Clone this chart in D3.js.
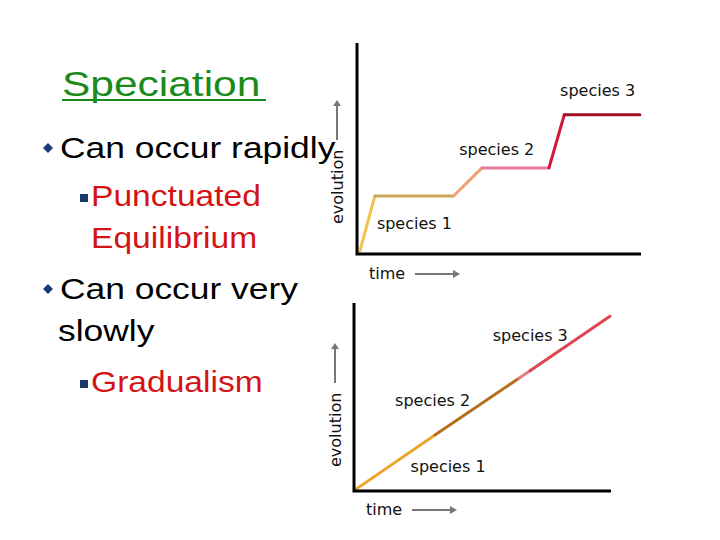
<!DOCTYPE html><html><head><meta charset="utf-8">
<script src="https://cdn.jsdelivr.net/npm/d3@7"></script>
<style>body{margin:0;background:#fff}</style></head><body>
<script>
const punctTime=[1,6.3,34,44,67.6,73,99.6];
const punctEvo=[1.4,27.5,27.5,40.8,40.8,66,66];
const punctColors=["#f2c24a","#c9a554","#f0a276","#e27c9a","#d4183c","#9e1020"];
const gradTime=[0.8,31.5,64.2,68.5,99.6];
const gradEvo=[1,29.8,60,64,93];
const gradColors=["#eca62a","#b4701e","#ea7a86","#e04452"];
const speciesLabels=["species 1","species 2","species 3"];
const topLabelPos=[[7,12],[36,47],[71.5,75]];
const botLabelPos=[[22,10],[16,45],[54,80]];

const svg=d3.select("body").append("svg").attr("width",720).attr("height",540);
const F="Liberation Sans, Arial, sans-serif";
function stext(x,y,s,size,fill,sx){
  svg.append("text").attr("transform",`translate(${x},${y}) scale(${sx},1)`).attr("font-family",F).attr("font-size",size).attr("fill",fill).text(s);
}
stext(62,96,"Speciation",36,"#1a8a1a",1.18);
svg.append("line").attr("x1",62).attr("x2",266).attr("y1",100).attr("y2",100).attr("stroke","#1a8a1a").attr("stroke-width",2);
function diamond(x,y){svg.append("path").attr("d",`M${x},${y-5}L${x+5},${y}L${x},${y+5}L${x-5},${y}Z`).attr("fill","#1a3a7a");}
function sq(x,y){svg.append("rect").attr("x",x-4).attr("y",y-4).attr("width",8).attr("height",8).attr("fill","#1a3a6a");}
const lines=[[60,158,"Can occur rapidly","#000",1.18],[91,206,"Punctuated","#d41414",1.12],[91,248,"Equilibrium","#d41414",1.12],[60,299,"Can occur very","#000",1.18],[58,341,"slowly","#000",1.18],[91,392,"Gradualism","#d41414",1.12]];
lines.forEach(l=>stext(l[0],l[1],l[2],30,l[3],l[4]));
diamond(48,148);diamond(48,289);sq(84,198);sq(84,384);

function chart(x0,x1,y0,y1,tx,ty,cols,lab,evoX,evoY,timeX,timeY){
  const x=d3.scaleLinear().domain([0,100]).range([x0,x1]);
  const y=d3.scaleLinear().domain([0,100]).range([y0,y1]);
  const g=svg.append("g");
  const t=(px,py,s,rot)=>g.append("text").attr("transform",`translate(${px},${py})${rot?" rotate(-90)":""}`).attr("font-family","DejaVu Sans, sans-serif").attr("font-size",16).attr("fill","#111").text(s);
  for(let i=0;i<cols.length;i++){
    g.append("line").attr("x1",x(tx[i])).attr("y1",y(ty[i])).attr("x2",x(tx[i+1])).attr("y2",y(ty[i+1])).attr("stroke",cols[i]).attr("stroke-width",3).attr("stroke-linecap","round");
  }
  g.append("path").attr("d",`M${x0},${y1}V${y0}H${x1}`).attr("fill","none").attr("stroke","#000").attr("stroke-width",3);
  lab.forEach((p,i)=>t(x(p[0]),y(p[1]),speciesLabels[i],false));
  t(evoX,evoY,"evolution",true);
  g.append("line").attr("x1",evoX-6).attr("x2",evoX-6).attr("y1",evoY-84).attr("y2",evoY-122).attr("stroke","#777").attr("stroke-width",2);
  g.append("path").attr("d",`M${evoX-10},${evoY-118}L${evoX-6},${evoY-124}L${evoX-2},${evoY-118}Z`).attr("fill","#777");
  t(timeX,timeY,"time",false);
  g.append("line").attr("x1",timeX+46).attr("x2",timeX+86).attr("y1",timeY-5).attr("y2",timeY-5).attr("stroke","#777").attr("stroke-width",2);
  g.append("path").attr("d",`M${timeX+84},${timeY-9}L${timeX+91},${timeY-5}L${timeX+84},${timeY-1}Z`).attr("fill","#777");
}
chart(357,641,254,43,punctTime,punctEvo,punctColors,topLabelPos,343,224,369,279);
chart(354,611,491,303,gradTime,gradEvo,gradColors,botLabelPos,341,467,366,515);
</script></body></html>
